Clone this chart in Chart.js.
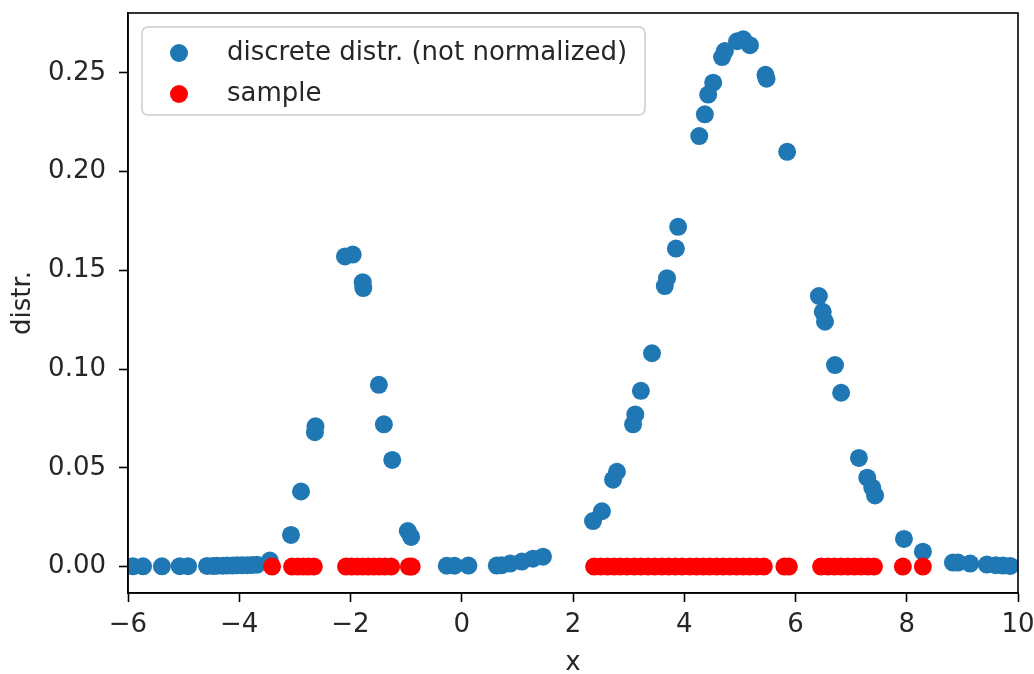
<!DOCTYPE html>
<html>
<head>
<meta charset="utf-8">
<script src="https://cdn.jsdelivr.net/npm/chart.js@4.4.0/dist/chart.umd.min.js"></script>
<style>
    html, body { margin: 0; padding: 0; background: #fff; }
</style>
</head>
<body>
<canvas id="chart-dist" width="1034" height="674"></canvas>
<script>
// DATA
const distX = [-5.91, -5.73, -5.39, -5.07, -4.92, -4.58, -4.47, -4.40, -4.30, -4.22, -4.12, -4.04, -3.95, -3.86, -3.77, -3.68, -3.45,
    -3.07, -2.89, -2.64, -2.63, -2.10, -1.96, -1.78, -1.77, -1.49, -1.40, -1.25, -0.97, -0.91,
    -0.27, -0.13, 0.12, 0.63, 0.72, 0.87, 1.08, 1.28, 1.46,
    2.36, 2.52, 2.72, 2.79, 3.08, 3.12, 3.22, 3.42, 3.65, 3.69, 3.85, 3.89, 4.27, 4.37, 4.43, 4.52,
    4.68, 4.73, 4.95, 5.06, 5.18, 5.46, 5.48, 5.85, 6.42, 6.49, 6.53, 6.71, 6.82, 7.14, 7.29, 7.38, 7.43,
    7.95, 8.29, 8.83, 8.92, 9.14, 9.44, 9.60, 9.73, 9.86];
const distY = [0.0001, 0.0001, 0.0001, 0.0002, 0.0002, 0.0003, 0.0003, 0.0004, 0.0004, 0.0005, 0.0005, 0.0006, 0.0006, 0.0007, 0.0008, 0.0009, 0.003,
    0.016, 0.038, 0.068, 0.071, 0.157, 0.158, 0.144, 0.141, 0.092, 0.072, 0.054, 0.018, 0.015,
    0.0004, 0.0004, 0.0005, 0.0005, 0.0007, 0.0015, 0.0025, 0.004, 0.005,
    0.023, 0.028, 0.044, 0.048, 0.072, 0.077, 0.089, 0.108, 0.142, 0.146, 0.161, 0.172, 0.218, 0.229, 0.239, 0.245,
    0.258, 0.261, 0.266, 0.267, 0.264, 0.249, 0.247, 0.210, 0.137, 0.129, 0.124, 0.102, 0.088, 0.055, 0.045, 0.040, 0.036,
    0.014, 0.0075, 0.002, 0.002, 0.0015, 0.001, 0.0007, 0.0005, 0.0003];
const sampleX = [-3.41, -3.05, -2.95, -2.85, -2.76, -2.66, -2.08, -1.98, -1.88, -1.78, -1.68, -1.58, -1.48, -1.38, -1.27, -0.95, -0.90,
    2.38, 2.50, 2.62, 2.74, 2.85, 2.97, 3.10, 3.22, 3.35, 3.47, 3.60, 3.72, 3.84, 3.96, 4.10, 4.22, 4.34, 4.46, 4.58,
    4.70, 4.82, 4.94, 5.06, 5.18, 5.30, 5.43, 5.80, 5.88, 6.46, 6.58, 6.70, 6.82, 6.94, 7.06, 7.18, 7.30, 7.41, 7.93, 8.29];
const sampleY = 0;
const xTicks = [-6, -4, -2, 0, 2, 4, 6, 8, 10];
const yTicks = [0, 0.05, 0.10, 0.15, 0.20, 0.25];

const FONT = 'DejaVu Sans';
const TXT = '#262626';

// frame around plot area + legend drawn inside
const frameLegend = {
    id: 'frameLegend',
    afterDraw(chart) {
        const {ctx, chartArea: a} = chart;
        ctx.save();
        ctx.strokeStyle = '#000';
        ctx.lineWidth = 1.6;
        ctx.strokeRect(a.left, a.top, a.right - a.left, a.bottom - a.top);

        // legend box
        const lx = a.left + 14, ly = a.top + 14, lw = 503, lh = 88;
        ctx.beginPath();
        ctx.roundRect(lx, ly, lw, lh, 6);
        ctx.fillStyle = 'rgba(255,255,255,0.8)';
        ctx.fill();
        ctx.strokeStyle = '#cccccc';
        ctx.lineWidth = 1.5;
        ctx.stroke();

        ctx.font = '26px "' + FONT + '"';
        ctx.textBaseline = 'middle';
        ctx.textAlign = 'left';
        chart.data.datasets.forEach((ds, i) => {
            const cy = ly + 26 + i * 41;
            ctx.beginPath();
            ctx.arc(lx + 37, cy, 9, 0, Math.PI * 2);
            ctx.fillStyle = ds.backgroundColor;
            ctx.fill();
            ctx.fillStyle = TXT;
            ctx.fillText(ds.label, lx + 85, cy);
        });
        ctx.restore();
    }
};

const distCot = document.getElementById('chart-dist');

let distChart = new Chart(distCot, {
    type: 'scatter',
    data: {
        datasets: [{
            label: 'discrete distr. (not normalized)',
            data: distX.map((x, i) => ({x: x, y: distY[i]})),
            backgroundColor: '#1f77b4',
            borderWidth: 0,
            pointRadius: 9,
            order: 2
        }, {
            label: 'sample',
            data: sampleX.map(x => ({x: x, y: sampleY})),
            backgroundColor: '#ff0000',
            borderWidth: 0,
            pointRadius: 9,
            order: 1
        }]
    },
    options: {
        responsive: false,
        animation: false,
        layout: {
            padding: {top: 13, right: 16, left: 0, bottom: 0}
        },
        scales: {
            x: {
                type: 'linear',
                min: -6,
                max: 10,
                afterFit: s => { s.height = 81; s.paddingLeft = 0; s.paddingRight = 0; },
                afterBuildTicks: s => { s.ticks = xTicks.map(v => ({value: v})); },
                grid: {drawOnChartArea: false, tickLength: 9, tickWidth: 1.6, tickColor: '#000'},
                border: {color: '#000', width: 1.6},
                ticks: {
                    padding: 8,
                    color: TXT,
                    font: {family: FONT, size: 26},
                    maxRotation: 0,
                    callback: v => (v < 0 ? '\u2212' + Math.abs(v) : String(v))
                },
                title: {
                    display: true,
                    text: 'x',
                    color: TXT,
                    font: {family: FONT, size: 26, lineHeight: 0.85},
                    padding: {top: 0, bottom: 0}
                }
            },
            y: {
                min: -0.0134,
                max: 0.2803,
                afterFit: s => { s.width = 128; s.paddingTop = 0; s.paddingBottom = 0; },
                afterBuildTicks: s => { s.ticks = yTicks.map(v => ({value: v})); },
                grid: {drawOnChartArea: false, tickLength: 9, tickWidth: 1.6, tickColor: '#000'},
                border: {color: '#000', width: 1.6},
                ticks: {
                    padding: 13,
                    color: TXT,
                    font: {family: FONT, size: 26},
                    callback: v => v.toFixed(2)
                },
                title: {
                    display: true,
                    text: 'distr.',
                    color: TXT,
                    font: {family: FONT, size: 26, lineHeight: 0.85},
                    padding: {top: 12, bottom: 0}
                }
            }
        },
        plugins: {
            legend: {display: false},
            tooltip: {enabled: false}
        }
    },
    plugins: [frameLegend]
});
</script>
</body>
</html>
